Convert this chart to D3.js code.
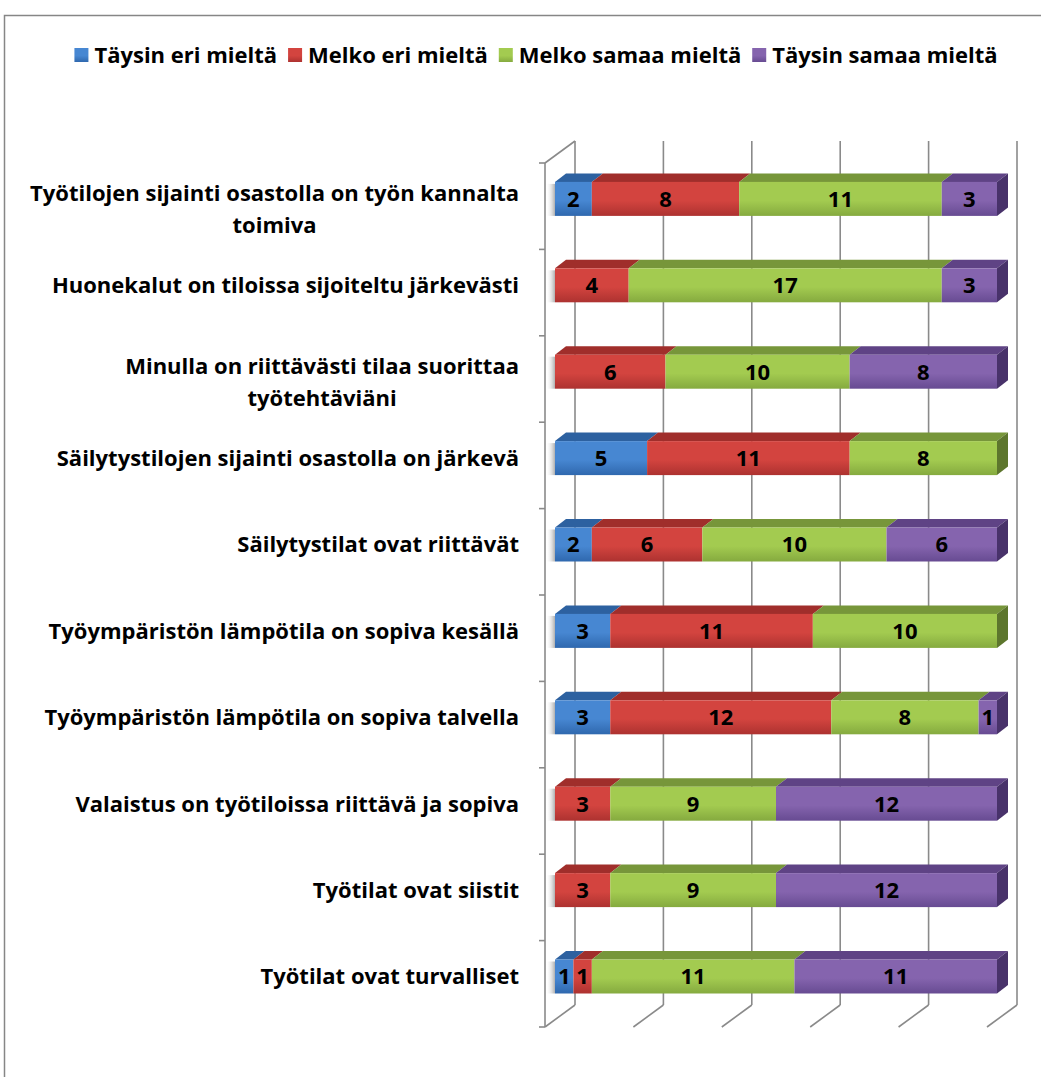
<!DOCTYPE html>
<html>
<head>
<meta charset="utf-8">
<script src="https://cdn.jsdelivr.net/npm/d3@7"></script>
<style>
  body { margin: 0; background: #fff; }
  svg { display: block; }
  text { font-family: "Open Sans", Lato, sans-serif; font-weight: 700; fill: #000; }
</style>
</head>
<body>
<svg id="chart" width="1041" height="1077"></svg>
<script>
// Survey statements, top to bottom (each entry = the label's lines)
const categories = [
  ["Työtilojen sijainti osastolla on työn kannalta", "toimiva"],
  ["Huonekalut on tiloissa sijoiteltu järkevästi"],
  ["Minulla on riittävästi tilaa suorittaa", "työtehtäviäni"],
  ["Säilytystilojen sijainti osastolla on järkevä"],
  ["Säilytystilat ovat riittävät"],
  ["Työympäristön lämpötila on sopiva kesällä"],
  ["Työympäristön lämpötila on sopiva talvella"],
  ["Valaistus on työtiloissa riittävä ja sopiva"],
  ["Työtilat ovat siistit"],
  ["Työtilat ovat turvalliset"]
];
const seriesNames = ["Täysin eri mieltä", "Melko eri mieltä", "Melko samaa mieltä", "Täysin samaa mieltä"];
const taysinEri   = [2, 0, 0, 5, 2, 3, 3, 0, 0, 1];
const melkoEri    = [8, 4, 6, 11, 6, 11, 12, 3, 3, 1];
const melkoSamaa  = [11, 17, 10, 8, 10, 10, 8, 9, 9, 11];
const taysinSamaa = [3, 3, 8, 0, 6, 0, 1, 12, 12, 11];
const gridTicks = [0, 0.2, 0.4, 0.6, 0.8, 1];

const series = [taysinEri, melkoEri, melkoSamaa, taysinSamaa];
const palette = [
  { light: "#4787d2", dark: "#2f68ae", top: "#2d61a0", side: "#234d80" },
  { light: "#d3443f", dark: "#ad3230", top: "#a02e2b", side: "#7d2321" },
  { light: "#a3cb50", dark: "#85aa3f", top: "#77963a", side: "#5d762d" },
  { light: "#8564ae", dark: "#674b92", top: "#5f4385", side: "#48326a" }
];

const svg = d3.select("#chart");
const defs = svg.append("defs");
palette.forEach((c, i) => {
  const g = defs.append("linearGradient").attr("id", "front" + i)
    .attr("x1", 0).attr("y1", 0).attr("x2", 0).attr("y2", 1);
  g.append("stop").attr("offset", "0%").attr("stop-color", c.light);
  g.append("stop").attr("offset", "55%").attr("stop-color", c.light);
  g.append("stop").attr("offset", "100%").attr("stop-color", c.dark);
});
const sh = defs.append("linearGradient").attr("id", "shadow")
  .attr("x1", 0).attr("y1", 0).attr("x2", 1).attr("y2", 0);
sh.append("stop").attr("offset", "0%").attr("stop-color", "#fff").attr("stop-opacity", 0);
sh.append("stop").attr("offset", "100%").attr("stop-color", "#9a9a9a").attr("stop-opacity", 0.8);

// Outer frame
svg.append("rect").attr("x", 4.5).attr("y", 15.5).attr("width", 1080).attr("height", 1100)
  .attr("fill", "none").attr("stroke", "#868686").attr("stroke-width", 1.5);

// Plot geometry: front plane of the box, wall depth and bar depth
const frontLeft = 545, frontRight = 987, plotTop = 163, plotBottom = 1027;
const wallDx = 30, wallDy = -22;
const barOffX = 10, barOffY = -7.3;  // bars sit a third of the way into the depth
const barDx = 11, barDy = -8.5;
const barH = 34;

const x = d3.scaleLinear().domain([0, 1]).range([frontLeft, frontRight]);
const y = d3.scaleBand().domain(d3.range(categories.length)).range([plotTop, plotBottom]);

// Back wall gridlines, floor diagonals and left wall
const grid = svg.append("g").attr("stroke", "#8a8a8a").attr("stroke-width", 1.6).attr("fill", "none");
gridTicks.forEach(t => {
  grid.append("line").attr("x1", x(t) + wallDx).attr("x2", x(t) + wallDx)
    .attr("y1", plotTop + wallDy).attr("y2", plotBottom + wallDy);
  grid.append("line").attr("x1", x(t)).attr("x2", x(t) + wallDx)
    .attr("y1", plotBottom).attr("y2", plotBottom + wallDy);
});
grid.append("line").attr("x1", frontLeft).attr("x2", frontLeft).attr("y1", plotTop).attr("y2", plotBottom);
grid.append("line").attr("x1", frontLeft).attr("x2", frontLeft + wallDx)
  .attr("y1", plotTop).attr("y2", plotTop + wallDy);
d3.range(categories.length + 1).forEach(i => {
  const yy = plotTop + i * y.step();
  grid.append("line").attr("x1", frontLeft - 6).attr("x2", frontLeft).attr("y1", yy).attr("y2", yy);
});

// Stacked 3D bars (shares of each row's total)
const bars = svg.append("g");
const labelSize = 22, lineH = 32;
categories.forEach((cat, r) => {
  const vals = series.map(s => s[r]);
  const total = d3.sum(vals);
  const cy = y(r) + y.bandwidth() / 2 + barOffY;
  const top = cy - barH / 2;
  // soft shadow at the left end
  bars.append("rect").attr("x", frontLeft + 1).attr("y", top + 2).attr("width", barOffX - 1).attr("height", barH - 2)
    .attr("fill", "url(#shadow)");
  let acc = 0;
  const lastIdx = d3.max(vals.map((v, i) => v > 0 ? i : -1));
  vals.forEach((v, i) => {
    if (v <= 0) return;
    const x0 = x(acc / total) + barOffX, x1 = x((acc + v) / total) + barOffX;
    acc += v;
    const c = palette[i];
    bars.append("path")
      .attr("d", `M${x0},${top}L${x1},${top}L${x1 + barDx},${top + barDy}L${x0 + barDx},${top + barDy}Z`)
      .attr("fill", c.top);
    if (i === lastIdx) {
      bars.append("path")
        .attr("d", `M${x1},${top}L${x1 + barDx},${top + barDy}L${x1 + barDx},${top + barH + barDy}L${x1},${top + barH}Z`)
        .attr("fill", c.side);
    }
    bars.append("rect").attr("x", x0).attr("y", top).attr("width", x1 - x0).attr("height", barH)
      .attr("fill", `url(#front${i})`);
    bars.append("text").attr("x", (x0 + x1) / 2).attr("y", cy).attr("dy", "0.36em")
      .attr("text-anchor", "middle").attr("font-size", 22).text(v);
  });
  // category label: lines centred on each other, block right-aligned to the axis
  const t = svg.append("text").attr("text-anchor", "middle").attr("font-size", labelSize);
  const spans = cat.map((line, li) => t.append("tspan")
    .attr("y", cy + (li - (cat.length - 1) / 2) * lineH + (cat.length > 1 ? 10 : 0))
    .attr("dy", "0.36em").text(line));
  const widths = spans.map(s => s.node().getComputedTextLength());
  const blockW = d3.max(widths);
  spans.forEach(s => s.attr("x", 519 - blockW / 2));
});

// Legend
const legend = svg.append("g");
const items = [];
let lx = 0;
seriesNames.forEach((name, i) => {
  const g = legend.append("g");
  g.append("rect").attr("x", 0).attr("y", -7).attr("width", 14).attr("height", 14)
    .attr("fill", `url(#front${i})`);
  const tx = g.append("text").attr("x", 20).attr("y", 0).attr("dy", "0.36em").attr("font-size", labelSize).text(name);
  const w = 20 + tx.node().getComputedTextLength();
  items.push({ g, lx });
  lx += w + 11;
});
const totalW = lx - 11;
const startX = 536 - totalW / 2;
items.forEach(it => it.g.attr("transform", `translate(${startX + it.lx},55)`));
</script>
</body>
</html>
